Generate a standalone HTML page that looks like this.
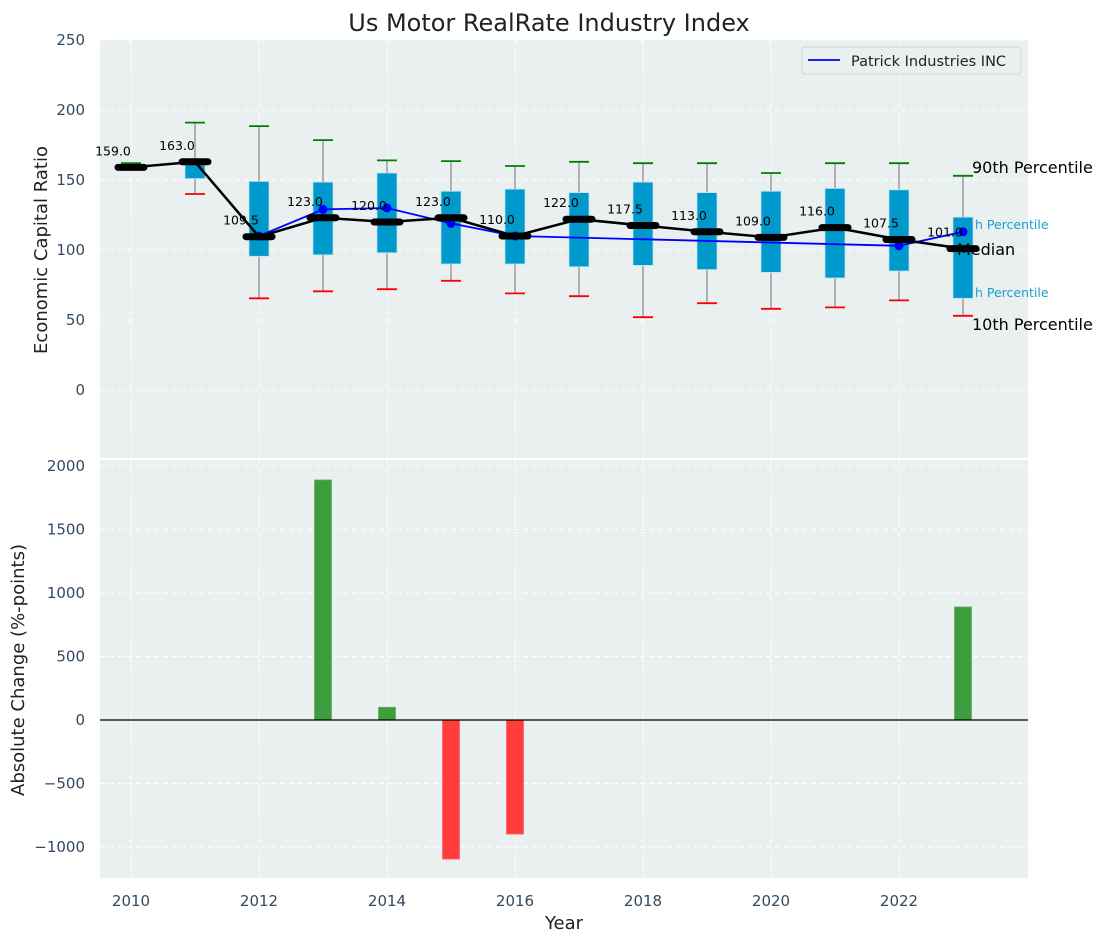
<!DOCTYPE html>
<html><head><meta charset="utf-8"><style>
body{margin:0;background:#fff;}
svg{display:block;font-family:"DejaVu Sans","Liberation Sans",sans-serif;}
</style></head><body>
<svg id="chart" width="1107" height="942" xmlns="http://www.w3.org/2000/svg"></svg>
<script>
const years=[2010,2011,2012,2013,2014,2015,2016,2017,2018,2019,2020,2021,2022,2023];
const medians=[159,163,109.5,123,120,123,110,122,117.5,113,109,116,107.5,101];
const p90=[162,191,188.5,178.5,164,163.5,160,163,162,162,155,162,162,153];
const p10=[159,140,65.5,70.5,72,78,69,67,52,62,58,59,64,53];
const q3=[159,163,149,148.5,155,142,143.5,141,148.5,141,142,144,143,123.5];
const q1=[159,151,95.5,96.5,98,90,90,88,89,86,84,80,85,65.5];
const patrickYears=[2012,2013,2014,2015,2016,2022,2023];
const patrickVals=[110,129,130,119,110,103,113];
const changeYears=[2013,2014,2015,2016,2023];
const changeVals=[1890,100,-1095,-898,890];
const topTicks=[0,50,100,150,200,250];
const botTicks=[-1000,-500,0,500,1000,1500,2000];
const xTicks=[2010,2012,2014,2016,2018,2020,2022];

const NS="http://www.w3.org/2000/svg";
const svg=document.getElementById('chart');
const L=100,R=1028;
const X=v=>131+(v-2010)*64;
const T0=40,T1=458,B0=460,B1=878;
const YT=v=>390-v*1.4;
const YB=v=>720-v*0.127;
function el(tag,attrs,parent){const e=document.createElementNS(NS,tag);for(const k in attrs)e.setAttribute(k,attrs[k]);(parent||svg).appendChild(e);return e;}
function txt(s,attrs,parent){const e=el('text',attrs,parent);e.textContent=s;return e;}

const pt=el('rect',{x:L,y:T0,width:R-L,height:T1-T0,fill:'#eaeff0'});

const pb=el('rect',{x:L,y:B0,width:R-L,height:B1-B0,fill:'#eaeff0'});


xTicks.forEach(t=>{
  el('line',{x1:X(t),x2:X(t),y1:T0,y2:T1,stroke:'#fff','stroke-dasharray':'5,4','stroke-width':1});
  el('line',{x1:X(t),x2:X(t),y1:B0,y2:B1,stroke:'#fff','stroke-dasharray':'5,4','stroke-width':1});
  const g=txt(String(t),{x:X(t),y:906,'text-anchor':'middle','font-size':15,fill:'#34495e'});
  
});
topTicks.forEach(t=>{
  el('line',{x1:L,x2:R,y1:YT(t),y2:YT(t),stroke:'#fff','stroke-dasharray':'5,4','stroke-width':1});
  const g=txt(String(t),{x:85,y:YT(t)+5,'text-anchor':'end','font-size':15,fill:'#34495e'});
  
});
botTicks.forEach(t=>{
  el('line',{x1:L,x2:R,y1:YB(t),y2:YB(t),stroke:'#fff','stroke-dasharray':'5,4','stroke-width':1});
  const g=txt(String(t).replace('-','\u2212'),{x:85,y:YB(t)+5,'text-anchor':'end','font-size':15,fill:'#34495e'});
  
});

years.forEach((y,i)=>{
  const cx=X(y);
  const w=el('line',{x1:cx,x2:cx,y1:YT(p90[i]),y2:YT(p10[i]),stroke:'#888','stroke-width':1.2});
  
  const b=el('rect',{x:cx-10,y:YT(q3[i]),width:20,height:Math.max(0,YT(q1[i])-YT(q3[i])),fill:'#0099cc',stroke:'#bfe3ef','stroke-width':0.8});
  
  const c1=el('line',{x1:cx-10,x2:cx+10,y1:YT(p90[i]),y2:YT(p90[i]),stroke:'green','stroke-width':1.8});
  
  const c2=el('line',{x1:cx-10,x2:cx+10,y1:YT(p10[i]),y2:YT(p10[i]),stroke:'red','stroke-width':1.8});
  
});
const pp=el('polyline',{points:patrickYears.map((y,i)=>X(y)+','+YT(patrickVals[i])).join(' '),fill:'none',stroke:'#0000ff','stroke-width':1.8});

patrickYears.forEach((y,i)=>{
  const c=el('circle',{cx:X(y),cy:YT(patrickVals[i]),r:4.5,fill:'#0000ff'});
  
});
const ml=el('polyline',{points:years.map((y,i)=>X(y)+','+YT(medians[i])).join(' '),fill:'none',stroke:'#000','stroke-width':2.5});

years.forEach((y,i)=>{
  const m=el('line',{x1:X(y)-13,x2:X(y)+13,y1:YT(medians[i]),y2:YT(medians[i]),stroke:'#000','stroke-width':7,'stroke-linecap':'round'});
  
  const t=txt(medians[i].toFixed(1),{x:X(y)-18,y:YT(medians[i])-12,'text-anchor':'middle','font-size':12.5,fill:'#000'});
  
});
[['90th Percentile',972,173,16,'#000'],['h Percentile',975,229,12.5,'#1a9fcf'],['Median',957,255,16,'#000'],['h Percentile',975,297,12.5,'#1a9fcf'],['10th Percentile',972,330,16,'#000']].forEach(a=>{
  const t=txt(a[0],{x:a[1],y:a[2],'font-size':a[3],fill:a[4]});
  
});
const lg=el('g',{});

el('rect',{x:802,y:47,width:219,height:27,rx:3,fill:'#eaeff0',stroke:'#d0d4d6'},lg);
el('line',{x1:808,x2:840,y1:60,y2:60,stroke:'#0000ff','stroke-width':1.8},lg);
txt('Patrick Industries INC',{x:851,y:66,'font-size':14.5,fill:'#222'},lg);

changeYears.forEach((y,i)=>{
  const v=changeVals[i];
  const b=el('rect',{x:X(y)-8.5,y:Math.min(YB(v),YB(0)),width:17,height:Math.abs(YB(v)-YB(0)),fill:v>=0?'#3d9c3d':'#ff3d3d',stroke:v>=0?'#5cb85c':'#ff6666','stroke-width':0.8});
  
});
const z=el('line',{x1:L,x2:R,y1:YB(0),y2:YB(0),stroke:'#000','stroke-width':1.2});


const ti=txt('Us Motor RealRate Industry Index',{x:549,y:31,'text-anchor':'middle','font-size':24,fill:'#222'});

const y1=txt('Economic Capital Ratio',{x:0,y:0,'text-anchor':'middle','font-size':18,fill:'#222',transform:'translate(47,250) rotate(-90)'});

const y2=txt('Absolute Change (%-points)',{x:0,y:0,'text-anchor':'middle','font-size':18,fill:'#222',transform:'translate(24,670) rotate(-90)'});

const xl=txt('Year',{x:564,y:929,'text-anchor':'middle','font-size':18,fill:'#222'});

</script>
</body></html>
